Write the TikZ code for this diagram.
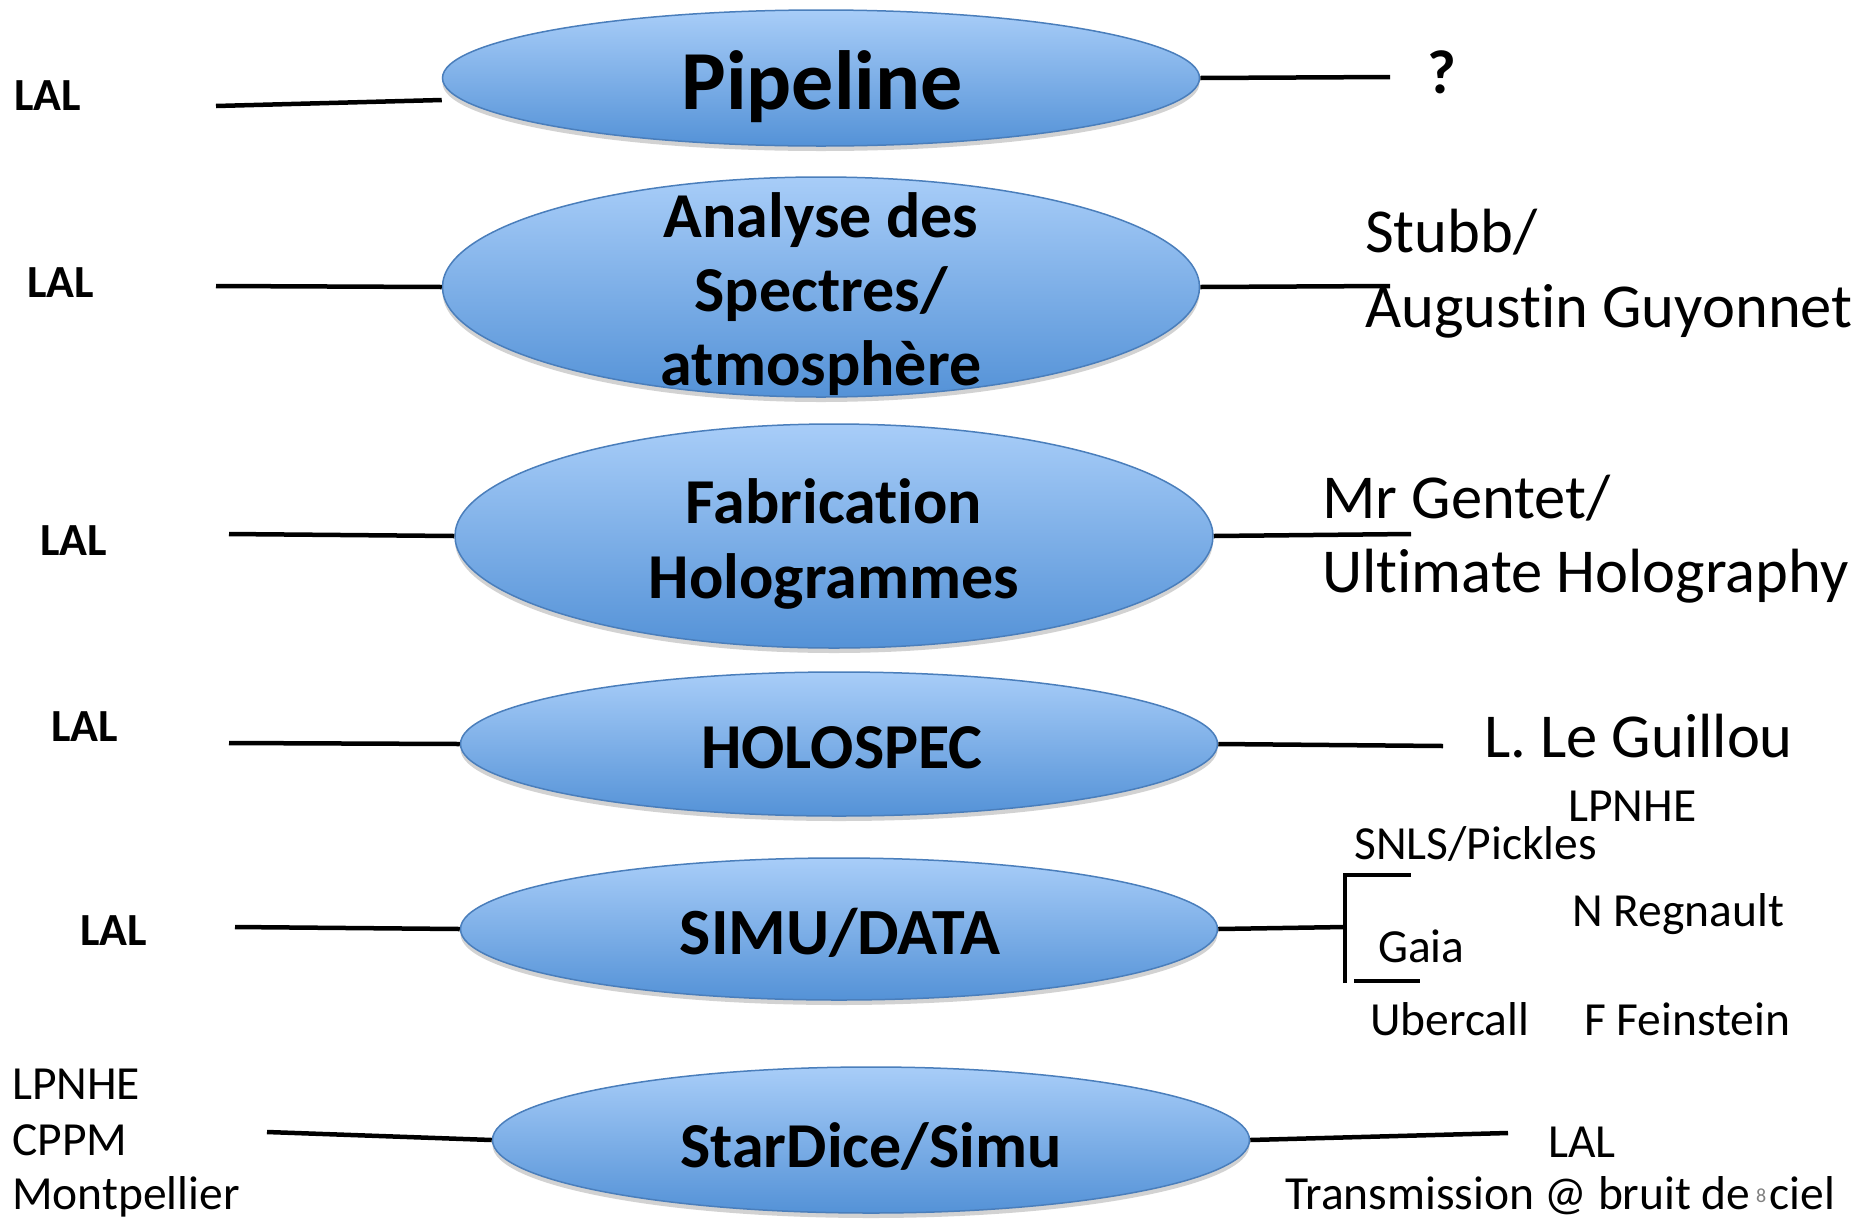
\documentclass[tikz,border=0pt]{standalone}
\usepackage{fontspec}
\setmainfont{Carlito}[Ligatures=NoCommon]
\usetikzlibrary{shapes.geometric,shadows,calc}
\definecolor{elltop}{RGB}{168,205,248}
\definecolor{ellbot}{RGB}{84,146,215}
\definecolor{ellline}{RGB}{74,126,187}
\begin{document}
\begin{tikzpicture}[x=1pt,y=-1pt,
  blob/.style={ellipse, draw=ellline, line width=1.5pt, top color=elltop, bottom color=ellbot,
     inner sep=0pt, drop shadow={opacity=0.35, shadow xshift=0pt, shadow yshift=-5pt}},
  conn/.style={line width=4.5pt, black},
  etext/.style={anchor=base, inner sep=0pt, font=\fontsize{64}{64}\selectfont\bfseries},
  ltext/.style={anchor=base west, inner sep=0pt, font=\fontsize{46}{46}\selectfont\bfseries},
  rtext/.style={anchor=base west, inner sep=0pt, font=\fontsize{62.5}{62.5}\selectfont},
  stext/.style={anchor=base west, inner sep=0pt, font=\fontsize{47.5}{47.5}\selectfont}]
\useasboundingbox (0,0) rectangle (1874,1219);
\fill[white] (0,0) rectangle (1874,1219);

% ellipses
\node[blob, minimum width=757pt, minimum height=136pt] (e1) at (821,78) {};
\node[blob, minimum width=757pt, minimum height=220pt] (e2) at (821,287) {};
\node[blob, minimum width=758pt, minimum height=224pt] (e3) at (834,536) {};
\node[blob, minimum width=757pt, minimum height=144pt] (e4) at (839,744) {};
\node[blob, minimum width=757pt, minimum height=142pt] (e5) at (839,929) {};
\node[blob, minimum width=757pt, minimum height=146pt] (e6) at (871,1140) {};

% ellipse texts
\node[etext, font=\fontsize{84}{84}\selectfont\bfseries] (t1) at (822,109) {Pipeline};
\node[etext] (t2a) at (821,237) {Analyse des};
\node[etext] (t2b) at (821,311) {Spectres/};
\node[etext] (t2c) at (821,385) {atmosphère};
\node[etext] (t3a) at (834,523) {Fabrication};
\node[etext] (t3b) at (834,598) {Hologrammes};
\node[etext] (t4) at (842,768) {HOLOSPEC};
\node[etext, font=\fontsize{66}{66}\selectfont\bfseries] (t5) at (840,954) {SIMU/DATA};
\node[etext] (t6) at (871,1167) {StarDice/Simu};

% left labels
\node[ltext] (a1) at (14,110) {LAL};
\node[ltext] (a2) at (27,297) {LAL};
\node[ltext] (a3) at (40,555) {LAL};
\node[ltext] (a4) at (51,741) {LAL};
\node[ltext] (a5) at (80,945) {LAL};
\node[stext] (a6) at (12,1099) {LPNHE};
\node[stext] (a7) at (12,1155) {CPPM};
\node[stext] (a8) at (12,1209) {Montpellier};

% right labels
\node[ltext, font=\fontsize{62}{62}\selectfont\bfseries] (b1) at (1427,93) {?};
\node[rtext] (b2a) at (1365,252) {Stubb/};
\node[rtext] (b2b) at (1365,327) {Augustin Guyonnet};
\node[rtext] (b3a) at (1322,518) {Mr Gentet/};
\node[rtext] (b3b) at (1322,592) {Ultimate Holography};
\node[rtext] (b4) at (1484,757) {L. Le Guillou};
\node[stext] (b5a) at (1568,821) {LPNHE};
\node[stext] (b5b) at (1354,859) {SNLS/Pickles};
\node[stext] (b5c) at (1572,926) {N Regnault};
\node[stext] (b5d) at (1378,962) {Gaia};
\node[stext] (b5e) at (1370,1035) {Ubercall};
\node[stext] (b5f) at (1584,1035) {F Feinstein};
\node[stext] (b6a) at (1548,1157) {LAL};
\node[stext] (b6b) at (1285,1209) {Transmission @ bruit de\hspace{0.4em}ciel};
\node[anchor=base west, inner sep=0pt, text=gray, font=\fontsize{20}{20}\selectfont] (pg) at (1756,1202) {8};

% connector free ends
\coordinate (l1) at (216,106);
\coordinate (l2) at (216,286);
\coordinate (l3) at (229,534);
\coordinate (l4) at (229,743);
\coordinate (l5) at (235,927);
\coordinate (l6) at (267,1132);
\coordinate (r1) at (1390,77);
\coordinate (r2) at (1390,286);
\coordinate (r3) at (1411,534);
\coordinate (r4) at (1443,746);
\coordinate (r5) at (1345,927);
\coordinate (r6) at (1508,1133);
\coordinate (bt) at (1345,875);
\coordinate (bb) at (1345,983);
\coordinate (btr) at (1411,875);
\coordinate (bbl) at (1354,981);
\coordinate (bbr) at (1420,981);

% connectors
\draw[conn] (l1) -- ($(e1.west)+(0,22)$);
\draw[conn] (l2) -- (e2.west);
\draw[conn] (l3) -- (e3.west);
\draw[conn] (l4) -- (e4.west);
\draw[conn] (l5) -- (e5.west);
\draw[conn] (l6) -- (e6.west);
\draw[conn] (e1.east) -- (r1);
\draw[conn] (e2.east) -- (r2);
\draw[conn] (e3.east) -- (r3);
\draw[conn] (e4.east) -- (r4);
\draw[conn] (e5.east) -- (r5);
\draw[conn] (e6.east) -- (r6);
\draw[conn] (bb) -- (bt) -- (btr);
\draw[conn] (bbl) -- (bbr);
\end{tikzpicture}
\end{document}
